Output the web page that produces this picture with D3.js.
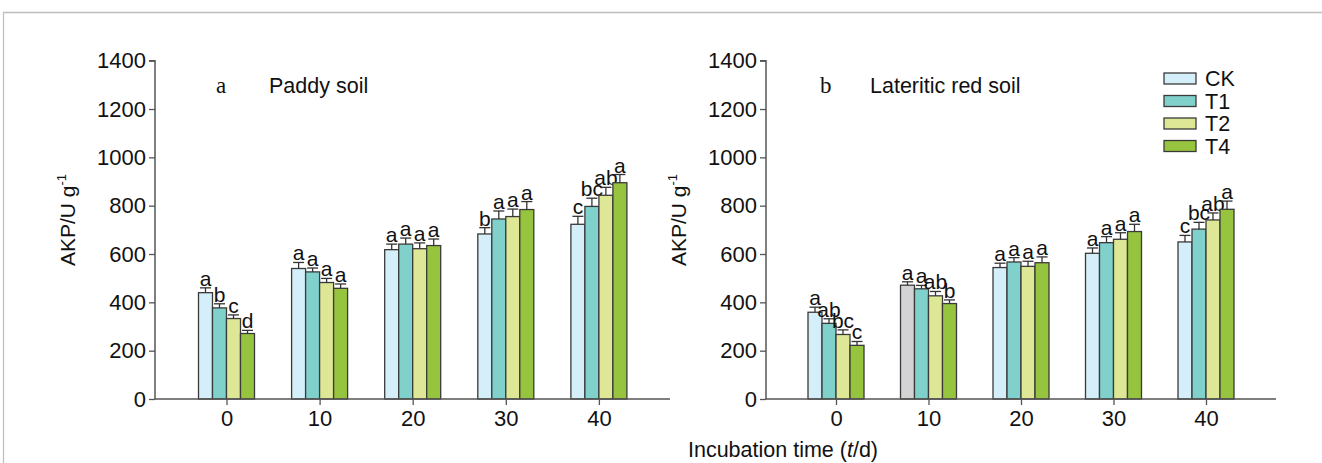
<!DOCTYPE html>
<html><head><meta charset="utf-8">
<script src="https://cdn.jsdelivr.net/npm/d3@7"></script>
<style>html,body{margin:0;padding:0;background:#fff;}svg{display:block;}</style>
</head><body>
<svg id="chart" width="1322" height="463"></svg>
<script>
const categories = ["0","10","20","30","40"];
const seriesNames = ["CK","T1","T2","T4"];
const yTicks = [0,200,400,600,800,1000,1200,1400];

// Panel a: Paddy soil — means and error values
const paddyCK  = [440, 540, 618, 683, 723];
const paddyT1  = [377, 526, 641, 745, 797];
const paddyT2  = [333, 482, 622, 755, 843];
const paddyT4  = [271, 458, 635, 784, 895];
const paddyErrCK = [20, 25, 23, 26, 33];
const paddyErrT1 = [17, 16, 25, 33, 34];
const paddyErrT2 = [15, 17, 24, 31, 33];
const paddyErrT4 = [13, 18, 27, 33, 34];
const paddyLetters = [["a","b","c","d"],["a","a","a","a"],["a","a","a","a"],["b","a","a","a"],["c","bc","ab","a"]];

// Panel b: Lateritic red soil
const redCK  = [359, 471, 544, 603, 650];
const redT1  = [313, 456, 567, 647, 703];
const redT2  = [267, 427, 549, 661, 741];
const redT4  = [222, 395, 564, 693, 785];
const redErrCK = [21, 14, 18, 22, 27];
const redErrT1 = [19, 14, 18, 25, 28];
const redErrT2 = [19, 18, 21, 27, 29];
const redErrT4 = [16, 15, 24, 30, 34];
const redLetters = [["a","ab","bc","c"],["a","a","ab","b"],["a","a","a","a"],["a","a","a","a"],["c","bc","ab","a"]];

const colors = ["#d5effa","#80d0cc","#dde795","#97c43e"];
const grayFill = "#d3d3d5";

const svg = d3.select("#chart");
const font = "Liberation Sans, Arial, sans-serif";

// frame lines
svg.append("line").attr("x1",3).attr("x2",1322).attr("y1",12.5).attr("y2",12.5).attr("stroke","#bdbdbd").attr("stroke-width",1.6);
svg.append("line").attr("x1",3.5).attr("x2",3.5).attr("y1",12).attr("y2",463).attr("stroke","#bdbdbd").attr("stroke-width",1.2);

const y = d3.scaleLinear().domain([0,1400]).range([399,60.7]);

function panel(opts){
  const g = svg.append("g");
  const x = d3.scalePoint().domain(categories).range([opts.x0+opts.off, opts.x0+opts.off+4*opts.step]);
  const inner = d3.scaleBand().domain(seriesNames).range([-28,28]).paddingInner(0);

  // y axis
  const ya = g.append("g").attr("transform",`translate(${opts.x0},0)`)
    .call(d3.axisLeft(y).tickValues(yTicks).tickSize(6).tickPadding(3).tickFormat(d3.format("d")));
  ya.select(".domain").attr("stroke","#555").attr("stroke-width",1.5).attr("d",`M-6,${y(1400)}H0V${y(0)}`);
  ya.selectAll(".tick line").attr("stroke","#555").attr("stroke-width",1.3);
  ya.selectAll(".tick text").attr("fill","#111").style("font-family",font).style("font-size","22px");

  // bars
  const series = [opts.ck, opts.t1, opts.t2, opts.t4];
  const errs = [opts.eck, opts.et1, opts.et2, opts.et4];
  categories.forEach((c,ci)=>{
    seriesNames.forEach((s,si)=>{
      const v = series[si][ci], e = errs[si][ci];
      const bx = x(c)+inner(s);
      const fill = (opts.grayCell && opts.grayCell[0]===ci && opts.grayCell[1]===si) ? grayFill : colors[si];
      g.append("rect").attr("x",bx).attr("y",y(v)).attr("width",inner.bandwidth()).attr("height",y(0)-y(v))
        .attr("fill",fill).attr("stroke","#3a3a3a").attr("stroke-width",1.3);
      const cx = bx+inner.bandwidth()/2;
      g.append("line").attr("x1",cx).attr("x2",cx).attr("y1",y(v)).attr("y2",y(v+e)).attr("stroke","#333").attr("stroke-width",1.3);
      g.append("line").attr("x1",cx-5.5).attr("x2",cx+5.5).attr("y1",y(v+e)).attr("y2",y(v+e)).attr("stroke","#333").attr("stroke-width",1.3);
      g.append("text").attr("x",cx).attr("y",y(v+e)-2).attr("text-anchor","middle")
        .style("font-family",font).style("font-size","21px").attr("fill","#111").text(opts.letters[ci][si]);
    });
  });

  // x axis
  const xa = g.append("g").attr("transform",`translate(0,${y(0)})`)
    .call(d3.axisBottom(x).tickSize(6).tickPadding(5));
  xa.select(".domain").attr("stroke","#555").attr("stroke-width",1.5).attr("d",`M${opts.x0},0H${opts.x1}`);
  xa.selectAll(".tick line").attr("stroke","#555").attr("stroke-width",1.3);
  xa.selectAll(".tick text").attr("fill","#111").style("font-family",font).style("font-size","22px");

  // y label
  const yl = g.append("text").attr("transform",`translate(${opts.x0-80},${opts.ylabY}) rotate(-90)`)
    .attr("text-anchor","middle").style("font-family",font).style("font-size","21px").attr("fill","#111");
  yl.append("tspan").text("AKP/U g");
  yl.append("tspan").attr("dy",-9).style("font-size","13px").text("-1");

  // panel labels
  g.append("text").attr("x",opts.lx).attr("y",93).style("font-family","Liberation Serif, Times New Roman, serif")
    .style("font-size","23px").attr("fill","#111").text(opts.letter);
  g.append("text").attr("x",opts.tx).attr("y",93).style("font-family",font)
    .style("font-size","21.5px").attr("fill","#111").text(opts.title);
}

panel({x0:155, x1:670, off:71.5, step:93.1, ck:paddyCK,t1:paddyT1,t2:paddyT2,t4:paddyT4,
  eck:paddyErrCK,et1:paddyErrT1,et2:paddyErrT2,et4:paddyErrT4,letters:paddyLetters,
  letter:"a", lx:216, title:"Paddy soil", tx:269, ylabY:220});
panel({x0:766, x1:1276, off:70, step:92.5, ck:redCK,t1:redT1,t2:redT2,t4:redT4,
  eck:redErrCK,et1:redErrT1,et2:redErrT2,et4:redErrT4,letters:redLetters,
  letter:"b", lx:820, title:"Lateritic red soil", tx:870, ylabY:220, grayCell:[1,0]});

// legend
const lg = svg.append("g");
seriesNames.forEach((s,i)=>{
  const yy = 78.5 + i*22.5;
  lg.append("rect").attr("x",1164).attr("y",yy-5.5).attr("width",32).attr("height",11)
    .attr("fill",colors[i]).attr("stroke","#3a3a3a").attr("stroke-width",1.3);
  lg.append("text").attr("x",1205).attr("y",yy+7.5).style("font-family",font).style("font-size","21.5px").attr("fill","#111").text(s);
});

// x title
const xt = svg.append("text").attr("x",783).attr("y",457).attr("text-anchor","middle")
  .style("font-family",font).style("font-size","21.5px").attr("fill","#111");
xt.append("tspan").text("Incubation time (");
xt.append("tspan").style("font-style","italic").text("t");
xt.append("tspan").text("/d)");
</script>
</body></html>
